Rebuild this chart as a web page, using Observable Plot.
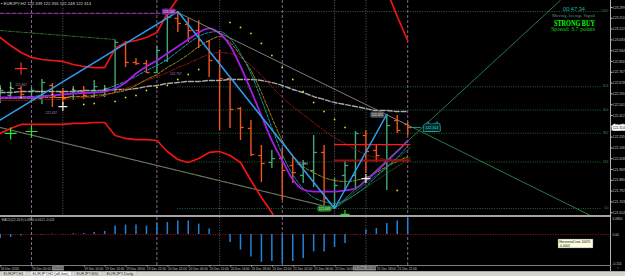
<!DOCTYPE html>
<html><head><meta charset="utf-8">
<script src="https://cdn.jsdelivr.net/npm/d3@7"></script>
<script src="https://cdn.jsdelivr.net/npm/@observablehq/plot@0.6"></script>
<style>
html,body{margin:0;padding:0;background:#000;}
#wrap{position:relative;width:625px;height:276px;background:#000;overflow:hidden;}
#main,#macd{position:absolute;left:0;}
#main{top:0;} #macd{top:217px;}
</style></head><body><div id="wrap"><div id="main"></div><div id="macd"></div></div>
<script>
// ---------- DATA (EURJPY, H2) ----------
const opens  = [122.560,122.577,122.634,122.568,122.552,122.659,122.601,122.568,122.609,122.568,122.577,122.626,122.995,122.848,122.839,122.765,122.864,123.209,123.160,123.110,123.020,122.864,122.716,122.470,122.306,122.084,122.027,122.059,122.002,121.920,121.961,122.109,121.673,121.920,121.920,122.248,122.125,122.043,122.371,122.339];
const highs  = [122.659,122.683,122.650,122.642,122.708,122.675,122.634,122.650,122.650,122.700,122.659,123.028,123.020,122.880,122.864,122.979,123.258,123.266,123.209,123.192,123.028,122.946,122.716,122.478,122.371,122.166,122.125,122.141,122.068,122.043,122.248,122.166,121.895,122.043,122.281,122.289,122.166,122.421,122.412,122.355];
const lows   = [122.511,122.544,122.552,122.536,122.503,122.478,122.536,122.536,122.544,122.552,122.560,122.601,122.806,122.823,122.757,122.757,122.848,123.094,123.012,122.962,122.724,122.289,122.306,122.207,122.076,121.862,121.977,121.715,121.854,121.854,121.821,121.673,121.649,121.797,121.797,121.936,122.027,121.797,122.265,122.248];
const closes = [122.618,122.634,122.585,122.618,122.683,122.568,122.552,122.618,122.577,122.650,122.634,123.012,122.848,122.839,122.765,122.946,123.217,123.168,123.110,123.028,122.864,122.716,122.462,122.314,122.092,122.018,122.059,121.961,121.944,122.018,122.109,121.731,121.838,122.002,122.265,122.117,122.084,122.330,122.289,122.314];

const maPurple = [122.560,122.560,122.560,122.560,122.568,122.577,122.585,122.593,122.597,122.601,122.609,122.634,122.683,122.757,122.815,122.864,122.921,122.979,123.036,123.094,123.127,123.086,122.987,122.815,122.618,122.412,122.207,122.043,121.887,121.805,121.788,121.788,121.788,121.797,121.813,121.879,121.953,122.035,122.117,122.207];
const maTeal   = [122.560,122.560,122.568,122.568,122.577,122.577,122.585,122.593,122.601,122.609,122.626,122.659,122.692,122.733,122.782,122.823,122.872,122.938,123.004,123.061,123.094,123.102,123.045,122.921,122.757,122.544,122.314,122.092,121.928,121.813,121.739,121.706,121.690,121.715,121.764,121.829,121.912,121.985,122.068,122.158];
const maGold   = [122.552,122.552,122.552,122.552,122.560,122.560,122.560,122.568,122.568,122.577,122.585,122.601,122.618,122.659,122.708,122.749,122.806,122.856,122.913,122.979,123.028,123.061,123.012,122.905,122.782,122.601,122.396,122.207,122.084,121.994,121.944,121.903,121.879,121.871,121.879,121.903,121.944,121.994,122.035,122.076];
const maDarkRed= [122.536,122.536,122.536,122.536,122.544,122.544,122.544,122.552,122.560,122.560,122.577,122.601,122.634,122.667,122.700,122.733,122.765,122.806,122.839,122.880,122.913,122.930,122.921,122.889,122.823,122.741,122.650,122.560,122.486,122.421,122.355,122.289,122.232,122.183,122.133,122.092,122.068,122.051,122.051,122.059];
const maSlow   = [122.601,122.601,122.609,122.609,122.609,122.609,122.609,122.609,122.618,122.618,122.618,122.626,122.626,122.634,122.650,122.659,122.675,122.683,122.692,122.692,122.700,122.700,122.708,122.708,122.708,122.700,122.683,122.659,122.626,122.601,122.568,122.544,122.519,122.503,122.486,122.470,122.453,122.453,122.445,122.445];
const bandUpper= [123.053,122.987,122.930,122.889,122.872,122.864,122.856,122.831,122.815,122.806,122.806,122.962,123.012,123.028,123.053,123.094,123.250,123.373,123.521,123.685,123.849,123.972,124.054,124.095,124.112,124.112,124.095,124.079,124.054,124.013,123.972,123.931,123.890,123.849,123.783,123.718,123.644,123.439,123.225,123.028];
const bandLower= [122.265,122.306,122.339,122.339,122.339,122.339,122.339,122.347,122.347,122.355,122.355,122.248,122.224,122.215,122.215,122.207,122.117,122.051,122.027,122.059,122.109,122.117,122.084,122.027,121.879,121.739,121.616,121.427,121.181,121.058,120.976,120.893,120.852,120.852,120.893,120.935,120.976,121.017,121.058,121.099];
const sar      = [122.634,122.642,122.560,null,122.609,122.585,null,122.626,122.503,122.511,122.626,122.527,122.560,122.577,122.618,122.642,122.659,122.708,122.749,122.790,null,null,123.176,123.135,123.086,123.004,122.905,122.806,122.708,122.609,122.519,122.445,122.380,122.314,null,null,null,null,121.797,null];
const macdHist = [-0.020,-0.015,-0.008,-0.003,-0.002,0.002,0.001,0.004,0.005,0.010,0.015,0.042,0.047,0.047,0.042,0.055,0.060,0.067,0.067,0.052,0.027,-0.001,-0.040,-0.078,-0.112,-0.140,-0.135,-0.145,-0.135,-0.120,-0.087,-0.087,-0.065,-0.045,-0.002,0.022,0.030,0.055,0.067,0.080];

// ZigZag vertices (bar index, price, kind)
const zigIdx   = [-1, 17, 32, 37];
const zigPrice = [122.322, 123.266, 121.649, 122.421];
const zigKind  = ["low", "high", "low", "high"];
// Fibonacci retracement
const fibPrice  = [123.266, 122.648, 122.458, 122.267, 122.031, 121.649];
const fibLabels = ["100.0", "61.8", "50.0", "38.2", "23.6", "0.0"];
const fibFrom = 17, fibTo = 57.5, fibLabelAt = 58.2;
// trend lines [idx1, p1, idx2, p2]
const peakTrendGray  = [17, 123.258, 39.3, 122.322];
const peakTrendGreen = [39.3, 122.322, 56.5, 121.591];
const fanMain  = [32, 121.649, 53.6, 123.357];
const fanA     = [32, 121.649, 39.3, 122.150];
const fanB     = [32, 121.649, 39.3, 122.068];
const channel  = [0, 122.314, 32, 121.649];
const topLeftLine = [0, 123.110, 11, 123.036];
const purpleLevel = [0, 123.250, 15.3, 123.250];
const redLevels   = [122.174, 122.043];
const redLevelFrom = 32, redLevelTo = 39.3;
const daySeparators = [3, 15, 27, 39];
const vMarkersMain  = [6, 21, 32, 35];
const vMarkersMacd  = [21, 35];
// signals
const sigIdx   = [2, 1, 3, 6, 6, 35, 33];
const sigPrice = [122.798, 122.265, 122.281, 122.560, 122.486, 121.895, 121.600];
const sigKind  = ["sell", "buy", "buy", "alert", "mark", "mark", "buydot"];
// free price labels on chart
const noteIdx   = [4.9, 16.8, 28.9, 2.0];
const notePrice = [122.437, 122.757, 122.018, 122.667];
// axes
const priceTicks = [123.299,123.210,123.122,123.033,122.944,122.856,122.767,122.678,122.590,122.501,122.412,122.324,122.235,122.146,122.058,121.969,121.880,121.792,121.703,121.614];
const macdTicks = [0.085, 0, -0.155];
const macdTickLabels = ["0.0850", "0.00", "-0.155"];
const timeIdx = [0,3,8,10,12,14,16,18,20,22,24,26,28,30,32,36,38];
const timeLabels = ["16 Dec 2016","19 Dec 00:00","19 Dec 10:00","19 Dec 14:00","19 Dec 18:00","19 Dec 22:00","20 Dec 02:00","20 Dec 06:00","20 Dec 10:00","20 Dec 14:00","20 Dec 18:00","20 Dec 22:00","21 Dec 02:00","21 Dec 06:00","21 Dec 10:00","21 Dec 18:00","21 Dec 22:00"];
const boxTimeIdx = [6, 35];
const boxTimeLabels = ["19 Dec 06:00", "21 Dec 16:00"];
const symbolName = "EURJPY,H2";
const barTimer = "00:47:34";
const spreadPoints = 3.7;

// ---------- BUILD ----------
const xDomain = [0.0335, 58.407];
const FONT = "Liberation Sans, Arial, sans-serif";
const bars = opens.map((o, i) => ({i, open: o, high: highs[i], low: lows[i], close: closes[i]}));
const BULL = "#43a878", BEAR = "#f4531d";
const col = d => d.close >= d.open ? BULL : BEAR;
const rows = arr => arr.map((p, i) => ({i, p})).filter(d => d.p != null);
const seg = a => [{i: a[0], p: a[1]}, {i: a[2], p: a[3]}];
const leftTick = {draw(ctx, size) { const r = Math.sqrt(size / Math.PI); ctx.moveTo(-r, 0); ctx.lineTo(0, 0); }};
const rightTick = {draw(ctx, size) { const r = Math.sqrt(size / Math.PI); ctx.moveTo(0, 0); ctx.lineTo(r, 0); }};
const zig = zigIdx.map((i, k) => ({i, p: zigPrice[k], kind: zigKind[k]}));
const zigLabels = zig.filter(d => d.i >= 0);
const fibRows = fibPrice.map((p, k) => ({p, a: fibFrom, b: fibTo, lx: fibLabelAt, label: fibLabels[k]}));
const redRows = redLevels.map(p => ({p, a: redLevelFrom, b: redLevelTo}));
const sigColor = {sell: "#ff2a2a", buy: "#2ee82e", alert: "#ff7a10", mark: "#f0f0f0", buydot: "#22dd22"};
const sigR = {sell: 2, buy: 1.9, alert: 2.3, mark: 1.1, buydot: 1.1};
const sigs = sigIdx.map((i, k) => ({i, p: sigPrice[k], kind: sigKind[k]}));
const notes = noteIdx.map((i, k) => ({i, p: notePrice[k], t: notePrice[k].toFixed(3)}));
const last = bars[bars.length - 1];

const zzFill = d => d.i === 17 ? "#7d2a8e" : d.kind === "low" ? "#2a7d2a" : "#505050";
const zzText = d => d.i === 17 ? "#f0d0ff" : d.kind === "low" ? "#b8ffb8" : "#e8e8e8";
const zzDx = {17: -9, 32: -10, 37: -9.5};

const main = Plot.plot({
  width: 625, height: 215,
  marginTop: 0, marginRight: 15, marginBottom: 0, marginLeft: 0,
  style: {background: "#000", color: "#c8c8c8", fontFamily: FONT, fontSize: "3.6px", overflow: "visible"},
  x: {domain: xDomain, axis: null},
  y: {domain: [121.5915, 123.3565], axis: null},
  color: {type: "identity"},
  marks: [
    Plot.ruleX(daySeparators, {stroke: "#9d6f9d", strokeDasharray: "3,2", strokeWidth: 0.9}),
    Plot.ruleX(vMarkersMain, {stroke: "#6c6c78", strokeDasharray: "1,1.6", strokeWidth: 0.9}),
    Plot.ruleY(fibRows, {y: "p", x1: "a", x2: "b", stroke: "#2f7040", strokeDasharray: "1,1.4", strokeWidth: 0.9}),
    Plot.text(fibRows, {x: "lx", y: "p", text: "label", fill: "#3aa050", fontSize: 2.8, textAnchor: "end", dy: -0.3}),
    Plot.line(seg(purpleLevel), {x: "i", y: "p", stroke: "#8e2a9a", strokeWidth: 1.3, strokeDasharray: "4,2"}),
    Plot.line(seg(topLeftLine), {x: "i", y: "p", stroke: "#2d6a2d", strokeWidth: 1, strokeDasharray: "4,1.5,1,1.5"}),
    Plot.line(seg(channel), {x: "i", y: "p", stroke: "#4b7fa8", strokeWidth: 1.1, strokeDasharray: "1.5,2.5"}),
    Plot.line(seg(channel), {x: "i", y: "p", stroke: "#80782a", strokeWidth: 1.1, strokeDasharray: "1.5,2.5", strokeDashoffset: 2}),
    // price bars
    Plot.ruleX(bars, {x: "i", y1: "low", y2: "high", stroke: col, strokeWidth: 1.4}),
    Plot.dot(bars, {x: "i", y: "open", symbol: leftTick, r: 3.2, stroke: col, fill: "none", strokeWidth: 1.3}),
    Plot.dot(bars, {x: "i", y: "close", symbol: rightTick, r: 3.2, stroke: col, fill: "none", strokeWidth: 1.3}),
    // bands and moving averages
    Plot.line(rows(bandUpper), {x: "i", y: "p", stroke: "#f01414", strokeWidth: 1.7, clip: true}),
    Plot.line(rows(bandLower), {x: "i", y: "p", stroke: "#f01414", strokeWidth: 1.7, clip: true}),
    Plot.line(rows(maSlow), {x: "i", y: "p", stroke: "#a8a8a8", strokeWidth: 1.4, strokeDasharray: "5,2", curve: "monotone-x"}),
    Plot.line(rows(maDarkRed), {x: "i", y: "p", stroke: "#8e1212", strokeWidth: 1, strokeDasharray: "4,1.5,1,1.5", curve: "monotone-x"}),
    Plot.line(rows(maGold), {x: "i", y: "p", stroke: "#9c8a14", strokeWidth: 1, strokeDasharray: "3,1.5", curve: "monotone-x"}),
    Plot.line(rows(maTeal), {x: "i", y: "p", stroke: "#1b9b9b", strokeWidth: 1, strokeDasharray: "3,1.5", curve: "monotone-x"}),
    Plot.line(rows(maPurple), {x: "i", y: "p", stroke: "#a41ee6", strokeWidth: 1.8, curve: "monotone-x"}),
    // objects
    Plot.line(seg(peakTrendGray), {x: "i", y: "p", stroke: "#8a8a8a", strokeWidth: 0.9}),
    Plot.line(seg(peakTrendGreen), {x: "i", y: "p", stroke: "#2e8550", strokeWidth: 0.9, clip: true}),
    Plot.line(seg(fanMain), {x: "i", y: "p", stroke: "#2e8550", strokeWidth: 0.9, clip: true}),
    Plot.line(seg(fanA), {x: "i", y: "p", stroke: "#2a8a7a", strokeWidth: 0.7, strokeOpacity: 0.8}),
    Plot.line(seg(fanB), {x: "i", y: "p", stroke: "#2a7a4a", strokeWidth: 0.7, strokeOpacity: 0.8}),
    Plot.ruleY(redRows.slice(0, 1), {y: "p", x1: "a", x2: "b", stroke: "#ff1818", strokeWidth: 1.3}),
    Plot.ruleY(redRows.slice(1), {y: "p", x1: "a", x2: "b", stroke: "#9a1010", strokeWidth: 2}),
    Plot.line(zig, {x: "i", y: "p", stroke: "#2a9ef2", strokeWidth: 1.5, clip: true}),
    Plot.dot(rows(sar), {x: "i", y: "p", symbol: "square", r: 0.9, fill: "#e6e61a"}),
    Plot.dot(sigs, {x: "i", y: "p", symbol: "plus", r: d => sigR[d.kind], stroke: d => sigColor[d.kind], strokeWidth: 1.2}),
    Plot.text(notes, {x: "i", y: "p", text: "t", fill: "#a890b8", fontSize: 3.2}),
    // zigzag price boxes
    ...zigLabels.map(d => Plot.text([d], {x: "i", y: "p", text: z => z.p.toFixed(3), dx: zzDx[d.i], dy: 0.5, fontSize: 3.2,
      fill: zzText(d), stroke: zzFill(d), strokeWidth: 3.2, strokeLinejoin: "round", paintOrder: "stroke"})),
    // teal price tag
    Plot.ruleY([last], {y: "close", x1: () => 39.3, x2: () => 40.3, stroke: "#1fb0b0", strokeWidth: 0.8}),
    Plot.text([last], {x: () => 41.3, y: "close", text: d => d.close.toFixed(3), fontSize: 3.6, fill: "none", stroke: "#1fb0b0", strokeWidth: 5, strokeLinejoin: "miter"}),
    Plot.text([last], {x: () => 41.3, y: "close", text: d => d.close.toFixed(3), fontSize: 3.6, fill: "#30e0e0", stroke: "#082828", strokeWidth: 3.8, strokeLinejoin: "miter", paintOrder: "stroke"}),
    // price axis
    Plot.axisY(priceTicks, {anchor: "right", tickSize: 1.5, tickPadding: 0.8, tickFormat: d => d.toFixed(3), fontSize: 3.3, color: "#c8c8c8"}),
    Plot.text([last], {y: "close", frameAnchor: "right", textAnchor: "start", dx: 2.3, text: d => d.close.toFixed(3), fontSize: 3.3,
      fill: "#000", stroke: "#fff", strokeWidth: 2.8, strokeLinejoin: "miter", paintOrder: "stroke"})
  ]
});
document.getElementById("main").appendChild(main);

const macdRows = macdHist.map((v, i) => ({i, v, z: 0}));
const macd = Plot.plot({
  width: 625, height: 54,
  marginTop: 0, marginRight: 15, marginBottom: 6, marginLeft: 0,
  style: {background: "#000", color: "#c8c8c8", fontFamily: FONT, fontSize: "3.2px", overflow: "visible"},
  x: {domain: xDomain, axis: null},
  y: {domain: [-0.155, 0.085], axis: null},
  marks: [
    Plot.ruleX(daySeparators, {stroke: "#9d6f9d", strokeDasharray: "3,2", strokeWidth: 0.9}),
    Plot.ruleX(vMarkersMacd, {stroke: "#6c6c78", strokeDasharray: "1,1.6", strokeWidth: 0.9}),
    Plot.ruleY([0], {stroke: "#8e0c0c", strokeDasharray: "1.2,1.3", strokeWidth: 1}),
    Plot.ruleX(macdRows, {x: "i", y1: "z", y2: "v", stroke: "#1f82dc", strokeWidth: 1.5}),
    Plot.text([macdTicks[0]], {y: d => d, frameAnchor: "right", textAnchor: "start", dx: 2, dy: 1.6, text: () => macdTickLabels[0], fontSize: 3.2, fill: "#c8c8c8"}),
    Plot.text([macdTicks[1]], {y: d => d, frameAnchor: "right", textAnchor: "start", dx: 2, text: () => macdTickLabels[1], fontSize: 3.2, fill: "#c8c8c8"}),
    Plot.text([macdTicks[2]], {y: d => d, frameAnchor: "right", textAnchor: "start", dx: 2, dy: -1.6, text: () => macdTickLabels[2], fontSize: 3.2, fill: "#c8c8c8"}),
    Plot.text([`MACD(12,26,9) ${macdHist[macdHist.length-1].toFixed(4)} 0.0121 -0.011`], {frameAnchor: "top-left", dx: 1, dy: 1, text: d => d, fontSize: 3.2, fill: "#c8c8c8"}),
    Plot.axisX(timeIdx, {anchor: "bottom", tickSize: 1.6, tickPadding: 0.4, textAnchor: "start", dx: 0.6,
      tickFormat: d => timeLabels[timeIdx.indexOf(d)], fontSize: 3.2, color: "#c8c8c8"})
  ]
});
document.getElementById("macd").appendChild(macd);

// ---------- chrome overlay ----------
const ov = d3.select("#wrap").append("svg").attr("width", 625).attr("height", 276)
  .style("position", "absolute").style("left", 0).style("top", 0).style("pointer-events", "none")
  .style("font-family", FONT);
ov.append("rect").attr("x", 0).attr("y", 215).attr("width", 611).attr("height", 2).attr("fill", "#a4a4a4");
ov.append("rect").attr("x", 610).attr("y", 0).attr("width", 0.9).attr("height", 271).attr("fill", "#c8c8c8");
ov.append("rect").attr("x", 0).attr("y", 265).attr("width", 611).attr("height", 0.8).attr("fill", "#9a9a9a");
// time boxes of vertical lines
const xPix = i => (i - xDomain[0]) / (xDomain[1] - xDomain[0]) * 610;
boxTimeIdx.forEach((bi, k) => {
  const w = k === 0 ? 12 : 23;
  const x0 = k === 0 ? xPix(bi) - w + 1.5 : xPix(bi) - 12.5;
  ov.append("rect").attr("x", x0).attr("y", 265.8).attr("width", w).attr("height", 4.6).attr("fill", "#8a8a8a");
  ov.append("text").attr("x", x0 + 0.5).attr("y", 269.4).attr("font-size", 3.1).attr("fill", "#202020")
    .attr("textLength", w - 1).attr("lengthAdjust", "spacingAndGlyphs").text(boxTimeLabels[k]);
});
// title
ov.append("text").attr("x", 1).attr("y", 4.6).attr("font-size", 4.2).attr("fill", "#d8d8d8")
  .attr("textLength", 90).attr("lengthAdjust", "spacingAndGlyphs")
  .text(`\u25AA ${symbolName}  ${last.open.toFixed(3)} ${last.high.toFixed(3)} ${last.low.toFixed(3)} ${last.close.toFixed(3)}`);
// signal panel (top right)
ov.append("text").attr("x", 563).attr("y", 10.9).attr("font-size", 5.8).attr("fill", "#20b4aa")
  .attr("textLength", 22).attr("lengthAdjust", "spacingAndGlyphs").text(barTimer);
ov.append("text").attr("x", 552).attr("y", 16.6).attr("font-size", 4.4).attr("fill", "#5a9a6a").attr("font-family", "Liberation Serif, serif")
  .attr("textLength", 43).attr("lengthAdjust", "spacingAndGlyphs").text("Moving Average Signal");
ov.append("text").attr("x", 554).attr("y", 25.6).attr("font-size", 7.4).attr("font-weight", "bold").attr("fill", "#00ff00").attr("font-family", "Liberation Serif, serif")
  .attr("textLength", 41).attr("lengthAdjust", "spacingAndGlyphs").text("STRONG BUY");
ov.append("text").attr("x", 551).attr("y", 31.2).attr("font-size", 5.6).attr("fill", "#1ec81e").attr("font-family", "Liberation Serif, serif")
  .attr("textLength", 44).attr("lengthAdjust", "spacingAndGlyphs").text(`Spread: ${spreadPoints} points`);
// tooltip in MACD window
ov.append("rect").attr("x", 558).attr("y", 239).attr("width", 35).attr("height", 9).attr("fill", "#ffffe1").attr("stroke", "#555").attr("stroke-width", 0.4);
ov.append("text").attr("x", 559.3).attr("y", 242.9).attr("font-size", 3.2).attr("fill", "#000")
  .attr("textLength", 31).attr("lengthAdjust", "spacingAndGlyphs").text("Horizontal Line 10070");
ov.append("text").attr("x", 559.3).attr("y", 246.9).attr("font-size", 3.2).attr("fill", "#000").text("-0.0002");
// tab bar
ov.append("rect").attr("x", 0).attr("y", 271.2).attr("width", 625).attr("height", 4.8).attr("fill", "#d6d3cc");
const tabs = [["EURJPY,H1", 2, 24], ["EURJPY,H2 (off-line)", 31, 40], ["EURJPY,M30", 75, 26], ["EURJPY,Daily", 105, 31]];
tabs.forEach(([t, x, w], k) => {
  ov.append("rect").attr("x", x).attr("y", 271.4).attr("width", w).attr("height", 4.4)
    .attr("fill", k === 1 ? "#ffffff" : "#e6e3dc").attr("stroke", "#9a9a9a").attr("stroke-width", 0.3);
  ov.append("text").attr("x", x + 1.5).attr("y", 275).attr("font-size", 3).attr("fill", "#222")
    .attr("textLength", w - 4).attr("lengthAdjust", "spacingAndGlyphs").text(t);
});
</script></body></html>
